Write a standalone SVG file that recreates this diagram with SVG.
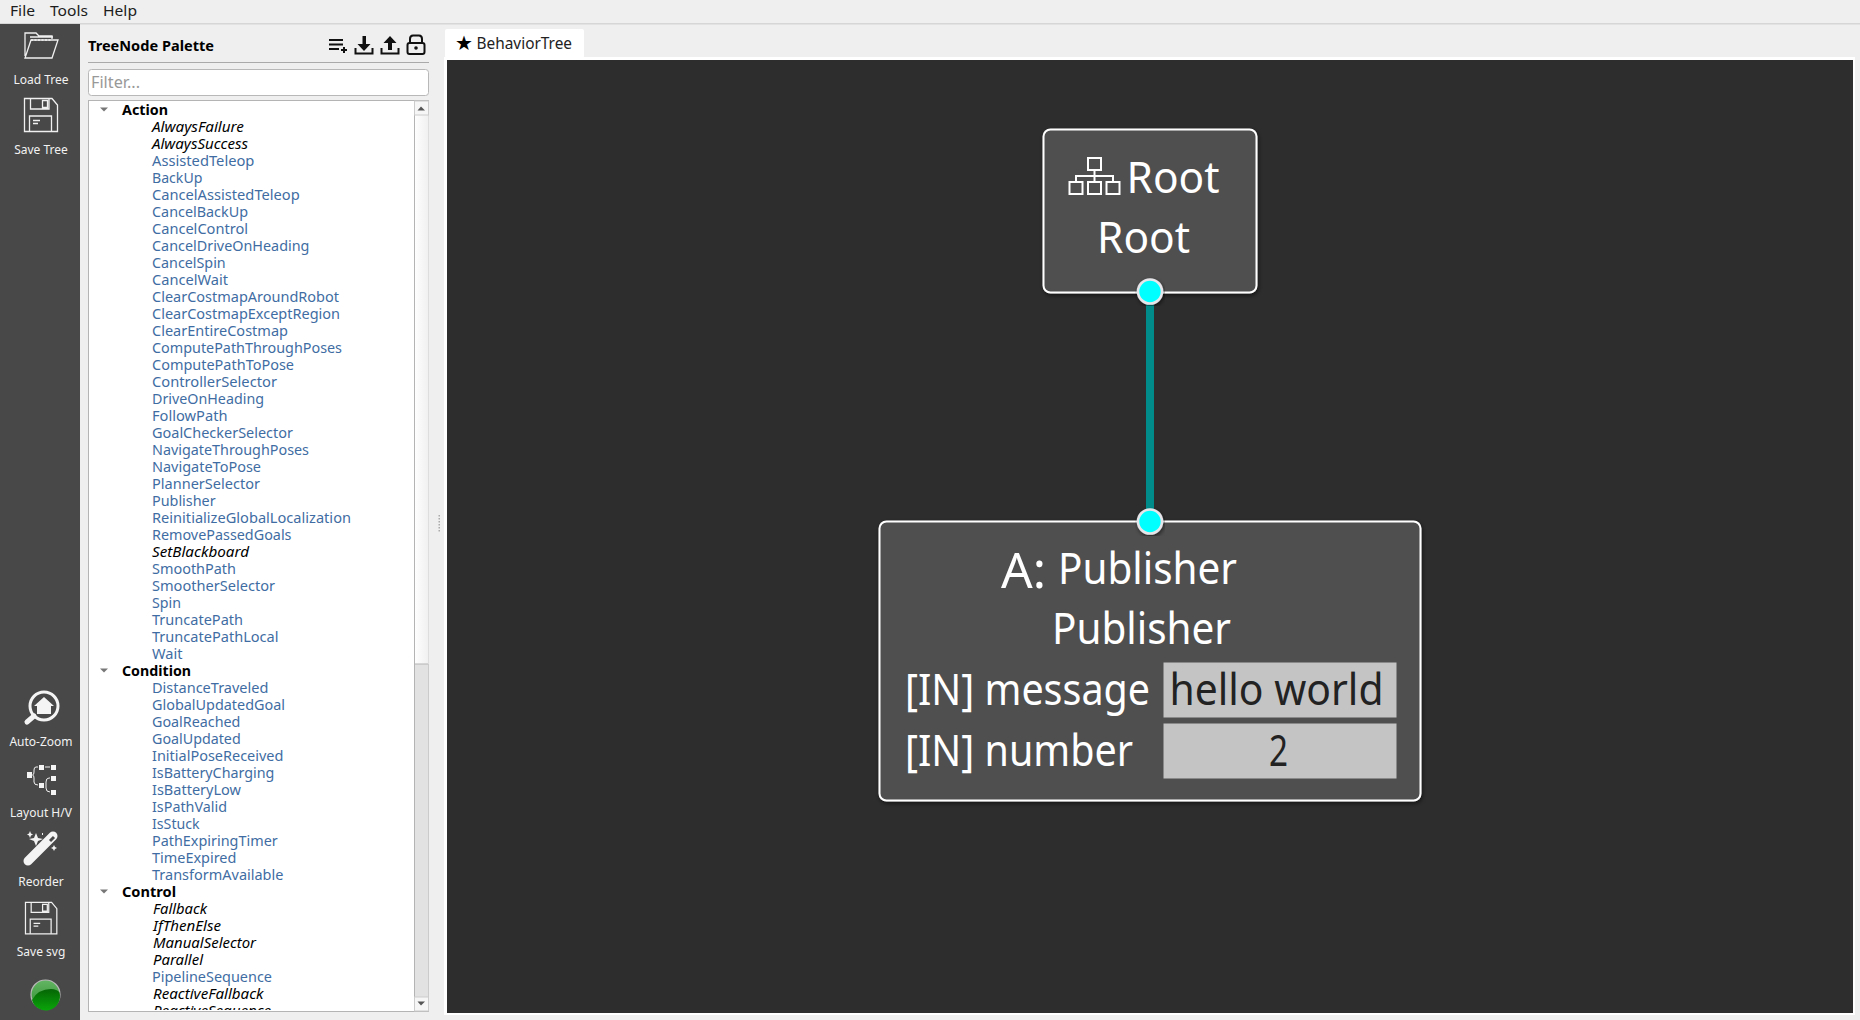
<svg xmlns="http://www.w3.org/2000/svg" width="1860" height="1020" viewBox="0 0 1860 1020">
<defs>
<style>
text{font-family:"Noto Sans","DejaVu Sans",sans-serif}
.menu{font-size:15px;fill:#1c1c1c}
.tool{font-size:12px;fill:#f2f2f2;text-anchor:middle}
.ic{fill:none;stroke:#f0f0f0;stroke-width:1.3}
.icf{fill:#f4f4f4}
.hd{font-size:14.5px;font-weight:700;fill:#000}
.a{font-size:14.5px;fill:#3f6da3}
.b{font-size:14.5px;font-style:italic;fill:#000}
.blk{fill:#222}
.pi{fill:none;stroke:#111;stroke-width:2}
.node{fill:#505050;stroke:#fff;stroke-width:2;filter:url(#sh)}
.nt{font-size:44px;fill:#fff}
.val{fill:#c4c4c4}
.vt{font-size:44px;fill:#222}
.port{fill:#0ff;stroke:#e6e6ea;stroke-width:2.6;filter:url(#sh)}
.nic{fill:none;stroke:#fff;stroke-width:2}
</style>
<filter id="sh" x="-10%" y="-10%" width="120%" height="120%"><feDropShadow dx="1" dy="2" stdDeviation="2" flood-color="#000" flood-opacity=".55"/></filter>
<linearGradient id="thumb" x1="0" x2="1" y1="0" y2="0"><stop offset="0" stop-color="#fff"/><stop offset="1" stop-color="#f0f0f0"/></linearGradient>
<linearGradient id="ledtop" x1="0" x2="0" y1="0" y2="1"><stop offset="0" stop-color="#63b563"/><stop offset="1" stop-color="#2f8f2f"/></linearGradient>
<linearGradient id="ledlow" x1="0" x2="0" y1="0" y2="1"><stop offset="0" stop-color="#056505"/><stop offset="1" stop-color="#0aa50a"/></linearGradient>
<clipPath id="listclip"><rect x="89" y="101" width="325" height="909"/></clipPath>
<g id="floppy"><path class="ic" d="M.5 .5H28L33.500 7V33.500H.5Z"/><path class="ic" d="M6.500 .5V11H25V.5M18.500 2.500H23.500V9.500H18.500ZM5.500 33.500V18H27.500V33.500M9 22.500H16M9 25.500H14"/></g>
</defs>
<rect width="1860" height="1020" fill="#efefef"/>
<g id="menubar">
<rect x="0" y="23" width="1860" height="1.5" fill="#d6d6d6"/>
<text class="menu" x="10" y="16" textLength="25" lengthAdjust="spacingAndGlyphs">File</text>
<text class="menu" x="50" y="16" textLength="38" lengthAdjust="spacingAndGlyphs">Tools</text>
<text class="menu" x="103" y="16" textLength="34" lengthAdjust="spacingAndGlyphs">Help</text>
</g>
<g id="toolbar">
<rect x="0" y="24" width="80" height="996" fill="#484848"/>
<path class="ic" d="M25 56V33H36L39 36H52V39M25 58H52L58 40H31L25 58ZM30 37H53"/>
<path d="M31 40H51" stroke="#f0f0f0" stroke-dasharray="2 1.5" stroke-width="1.4" fill="none"/>
<text class="tool" x="41" y="84">Load Tree</text>
<use href="#floppy" x="24" y="98"/>
<text class="tool" x="41" y="154">Save Tree</text>
<circle cx="44" cy="706" r="14" fill="none" stroke="#f4f4f4" stroke-width="3"/>
<path d="M34 716L27 722" stroke="#f4f4f4" stroke-width="5" stroke-linecap="round"/>
<path class="icf" d="M44 697L54 706H51V714H37V706H34Z"/>
<text class="tool" x="41" y="746">Auto-Zoom</text>
<g class="icf"><rect x="27" y="772" width="5" height="6"/><rect x="39" y="765" width="5" height="5"/><rect x="51" y="765" width="5" height="5"/><rect x="51" y="776" width="5" height="5"/><rect x="39" y="783" width="5" height="5"/><rect x="51" y="790" width="5" height="5"/></g>
<path d="M38 767H36Q34 767 34 770V772Q34 775 32.500 775Q34 775 34 778V782Q34 785 38 785M45 767H50M50 778H49Q46 778 46 782V788Q46 792 50 792" fill="none" stroke="#f0f0f0" stroke-width="1"/>
<text class="tool" x="41" y="817">Layout H/V</text>
<path d="M28 861L53 836" stroke="#f4f4f4" stroke-width="9" stroke-linecap="round"/>
<path d="M50 841L54 837" stroke="#484848" stroke-width="3"/>
<path class="icf" d="M36 833L38 838L43 839L38 841L36 846L34 841L29 839L34 838ZM29 833.500L30 831L31 833.500L33 834.500L31 835.500L30 838L29 835.500L27 834.500ZM42 833L43 833 43 835 42 835ZM54 845L55 847L57 848L55 849L54 851L53 849L51 848L53 847Z"/>
<text class="tool" x="41" y="886">Reorder</text>
<g transform="translate(25 902) scale(.95)"><use href="#floppy"/></g>
<text class="tool" x="41" y="956">Save svg</text>
<circle cx="45.500" cy="994.500" r="14.500" fill="url(#ledtop)" stroke="#b9b9b9" stroke-width="1.2"/>
<path d="M32 1000Q38 989 51 989Q57 989 59.500 992.500A14 14 0 0 1 32 1000Z" fill="url(#ledlow)"/>
</g>
<g id="palette">
<text class="hd" x="88" y="51" textLength="126" lengthAdjust="spacingAndGlyphs">TreeNode Palette</text>
<path class="pi" d="M329 40H343M329 44.500H343M329 49H339M341 50H347M344 47V53"/>
<path d="M362.500 36H366V44H370.500L364 51L357.500 44H362.500Z" fill="#111"/>
<path class="pi" d="M355.500 48V53.500H372.500V48" stroke-width="2.400"/>
<path d="M390 36L396.500 43H392V50H388V43H383.500Z" fill="#111"/>
<path class="pi" d="M381.500 48V53.500H398.500V48" stroke-width="2.400"/>
<path class="pi" d="M410 43V39Q410 35.500 413 35.500H419Q422 35.500 422 39V43"/>
<rect x="407.500" y="43" width="17" height="11" rx="2" class="pi"/>
<circle cx="416" cy="48" r="1.800" fill="#111"/>
<rect x="88" y="62" width="341" height="1" fill="#aaa"/>
<rect x="88.500" y="69.500" width="340" height="26" rx="3" fill="#fff" stroke="#b8b8b8"/>
<text x="91" y="88" font-size="16" fill="#999" textLength="49" lengthAdjust="spacingAndGlyphs">Filter...</text>
<rect x="88.500" y="100.500" width="340" height="911" fill="#fff" stroke="#b4b4b4"/>
<rect x="414" y="101" width="14.500" height="910" fill="#e2e2e2"/>
<rect x="414" y="101" width="14.500" height="563" fill="url(#thumb)"/>
<path d="M414.500 101V1011M414 664H428" stroke="#b4b4b4" fill="none"/>
<rect x="414.500" y="101" width="14" height="14" fill="#f6f6f6" stroke="#ccc"/>
<rect x="414.500" y="997" width="14" height="14" fill="#f6f6f6" stroke="#ccc"/>
<path d="M417.500 110.500H425L421 106.500ZM417.500 1001.500H425L421 1005.500Z" fill="#555"/>
<path d="M100 107.500H108L104 111.500ZM100 668.500H108L104 672.500ZM100 889.500H108L104 893.500Z" fill="#777"/>
<g fill="#aaa"><rect x="438.500" y="515" width="1.500" height="1.500"/><rect x="438.500" y="518" width="1.500" height="1.500"/><rect x="438.500" y="521" width="1.500" height="1.500"/><rect x="438.500" y="524" width="1.500" height="1.500"/><rect x="438.500" y="527" width="1.500" height="1.500"/><rect x="438.500" y="530" width="1.500" height="1.500"/></g>
<g clip-path="url(#listclip)">
<text class="hd" x="122" y="115" textLength="46" lengthAdjust="spacingAndGlyphs">Action</text>
<text class="b" x="152" y="132" textLength="92" lengthAdjust="spacingAndGlyphs">AlwaysFailure</text>
<text class="b" x="152" y="149" textLength="96" lengthAdjust="spacingAndGlyphs">AlwaysSuccess</text>
<text class="a" x="152" y="166" textLength="102.400" lengthAdjust="spacingAndGlyphs">AssistedTeleop</text>
<text class="a" x="152" y="183" textLength="50.400" lengthAdjust="spacingAndGlyphs">BackUp</text>
<text class="a" x="152" y="200" textLength="147.700" lengthAdjust="spacingAndGlyphs">CancelAssistedTeleop</text>
<text class="a" x="152" y="217" textLength="96" lengthAdjust="spacingAndGlyphs">CancelBackUp</text>
<text class="a" x="152" y="234" textLength="96" lengthAdjust="spacingAndGlyphs">CancelControl</text>
<text class="a" x="152" y="251" textLength="157.400" lengthAdjust="spacingAndGlyphs">CancelDriveOnHeading</text>
<text class="a" x="152" y="268" textLength="73.700" lengthAdjust="spacingAndGlyphs">CancelSpin</text>
<text class="a" x="152" y="285" textLength="76" lengthAdjust="spacingAndGlyphs">CancelWait</text>
<text class="a" x="152" y="302" textLength="187" lengthAdjust="spacingAndGlyphs">ClearCostmapAroundRobot</text>
<text class="a" x="152" y="319" textLength="188" lengthAdjust="spacingAndGlyphs">ClearCostmapExceptRegion</text>
<text class="a" x="152" y="336" textLength="136" lengthAdjust="spacingAndGlyphs">ClearEntireCostmap</text>
<text class="a" x="152" y="353" textLength="190" lengthAdjust="spacingAndGlyphs">ComputePathThroughPoses</text>
<text class="a" x="152" y="370" textLength="142" lengthAdjust="spacingAndGlyphs">ComputePathToPose</text>
<text class="a" x="152" y="387" textLength="125" lengthAdjust="spacingAndGlyphs">ControllerSelector</text>
<text class="a" x="152" y="404" textLength="112" lengthAdjust="spacingAndGlyphs">DriveOnHeading</text>
<text class="a" x="152" y="421" textLength="75.500" lengthAdjust="spacingAndGlyphs">FollowPath</text>
<text class="a" x="152" y="438" textLength="141" lengthAdjust="spacingAndGlyphs">GoalCheckerSelector</text>
<text class="a" x="152" y="455" textLength="157" lengthAdjust="spacingAndGlyphs">NavigateThroughPoses</text>
<text class="a" x="152" y="472" textLength="109" lengthAdjust="spacingAndGlyphs">NavigateToPose</text>
<text class="a" x="152" y="489" textLength="108" lengthAdjust="spacingAndGlyphs">PlannerSelector</text>
<text class="a" x="152" y="506" textLength="63.600" lengthAdjust="spacingAndGlyphs">Publisher</text>
<text class="a" x="152" y="523" textLength="199" lengthAdjust="spacingAndGlyphs">ReinitializeGlobalLocalization</text>
<text class="a" x="152" y="540" textLength="139.500" lengthAdjust="spacingAndGlyphs">RemovePassedGoals</text>
<text class="b" x="152" y="557" textLength="97" lengthAdjust="spacingAndGlyphs">SetBlackboard</text>
<text class="a" x="152" y="574" textLength="84" lengthAdjust="spacingAndGlyphs">SmoothPath</text>
<text class="a" x="152" y="591" textLength="123" lengthAdjust="spacingAndGlyphs">SmootherSelector</text>
<text class="a" x="152" y="608" textLength="29" lengthAdjust="spacingAndGlyphs">Spin</text>
<text class="a" x="152" y="625" textLength="91" lengthAdjust="spacingAndGlyphs">TruncatePath</text>
<text class="a" x="152" y="642" textLength="126.500" lengthAdjust="spacingAndGlyphs">TruncatePathLocal</text>
<text class="a" x="152" y="659" textLength="30.500" lengthAdjust="spacingAndGlyphs">Wait</text>
<text class="hd" x="122" y="676" textLength="69" lengthAdjust="spacingAndGlyphs">Condition</text>
<text class="a" x="152" y="693" textLength="116.400" lengthAdjust="spacingAndGlyphs">DistanceTraveled</text>
<text class="a" x="152" y="710" textLength="133" lengthAdjust="spacingAndGlyphs">GlobalUpdatedGoal</text>
<text class="a" x="152" y="727" textLength="88.400" lengthAdjust="spacingAndGlyphs">GoalReached</text>
<text class="a" x="152" y="744" textLength="88.700" lengthAdjust="spacingAndGlyphs">GoalUpdated</text>
<text class="a" x="152" y="761" textLength="131.400" lengthAdjust="spacingAndGlyphs">InitialPoseReceived</text>
<text class="a" x="152" y="778" textLength="122.400" lengthAdjust="spacingAndGlyphs">IsBatteryCharging</text>
<text class="a" x="152" y="795" textLength="89" lengthAdjust="spacingAndGlyphs">IsBatteryLow</text>
<text class="a" x="152" y="812" textLength="75" lengthAdjust="spacingAndGlyphs">IsPathValid</text>
<text class="a" x="152" y="829" textLength="47.700" lengthAdjust="spacingAndGlyphs">IsStuck</text>
<text class="a" x="152" y="846" textLength="125.700" lengthAdjust="spacingAndGlyphs">PathExpiringTimer</text>
<text class="a" x="152" y="863" textLength="84.400" lengthAdjust="spacingAndGlyphs">TimeExpired</text>
<text class="a" x="152" y="880" textLength="131.400" lengthAdjust="spacingAndGlyphs">TransformAvailable</text>
<text class="hd" x="122" y="897" textLength="54" lengthAdjust="spacingAndGlyphs">Control</text>
<text class="b" x="153" y="914" textLength="54" lengthAdjust="spacingAndGlyphs">Fallback</text>
<text class="b" x="153" y="931" textLength="68" lengthAdjust="spacingAndGlyphs">IfThenElse</text>
<text class="b" x="153" y="948" textLength="103" lengthAdjust="spacingAndGlyphs">ManualSelector</text>
<text class="b" x="153" y="965" textLength="50" lengthAdjust="spacingAndGlyphs">Parallel</text>
<text class="a" x="152" y="982" textLength="120" lengthAdjust="spacingAndGlyphs">PipelineSequence</text>
<text class="b" x="153" y="999" textLength="110.500" lengthAdjust="spacingAndGlyphs">ReactiveFallback</text>
<text class="b" x="153" y="1016" textLength="118" lengthAdjust="spacingAndGlyphs">ReactiveSequence</text>
</g>
</g>
<g id="tabs">
<rect x="445" y="29" width="139" height="29" rx="2" fill="#fff"/>
<text x="455" y="50" font-size="20" fill="#000" style="font-family:'DejaVu Sans',sans-serif">★</text>
<text x="476.500" y="49" font-size="16" class="blk" textLength="95.500" lengthAdjust="spacingAndGlyphs">BehaviorTree</text>
</g>
<g id="canvas">
<rect x="444" y="57" width="1411" height="958" fill="#fff"/>
<rect x="447" y="60" width="1406" height="953" fill="#2d2d2d"/>
</g>
<g id="connectors">
<rect x="1146" y="292" width="8" height="229" fill="#008b8b"/>
</g>
<g id="node-root">
<rect class="node" x="1043.500" y="129.500" width="213" height="163" rx="7"/>
<g class="nic">
<rect x="1088" y="158" width="13" height="12"/><rect x="1069.500" y="182" width="13" height="12"/><rect x="1088" y="182" width="13" height="12"/><rect x="1106.500" y="182" width="13" height="12"/>
<path d="M1094.500 170V176M1076 182V176H1113V182M1094.500 176V182"/>
</g>
<text class="nt" x="1126.500" y="192.500" textLength="93" lengthAdjust="spacingAndGlyphs">Root</text>
<text class="nt" x="1097" y="252.500" textLength="93" lengthAdjust="spacingAndGlyphs">Root</text>
<circle class="port" cx="1150" cy="291.500" r="12"/>
</g>
<g id="node-publisher">
<rect class="node" x="879.500" y="521.500" width="541" height="279" rx="7"/>
<text x="1001" y="588" font-size="50" fill="#fff" textLength="45" lengthAdjust="spacingAndGlyphs">A:</text>
<text class="nt" x="1058" y="584" textLength="179" lengthAdjust="spacingAndGlyphs">Publisher</text>
<text class="nt" x="1052" y="644" textLength="179" lengthAdjust="spacingAndGlyphs">Publisher</text>
<text class="nt" x="905" y="705" textLength="245" lengthAdjust="spacingAndGlyphs">[IN] message</text>
<text class="nt" x="905" y="766" textLength="228" lengthAdjust="spacingAndGlyphs">[IN] number</text>
<rect class="val" x="1163.500" y="662.500" width="233" height="55"/>
<rect class="val" x="1163.500" y="723.500" width="233" height="55"/>
<text class="vt" x="1169.500" y="705" textLength="214" lengthAdjust="spacingAndGlyphs">hello world</text>
<text class="vt" x="1269" y="766" textLength="19" lengthAdjust="spacingAndGlyphs">2</text>
<circle class="port" cx="1150" cy="521.500" r="12"/>
</g>
</svg>
